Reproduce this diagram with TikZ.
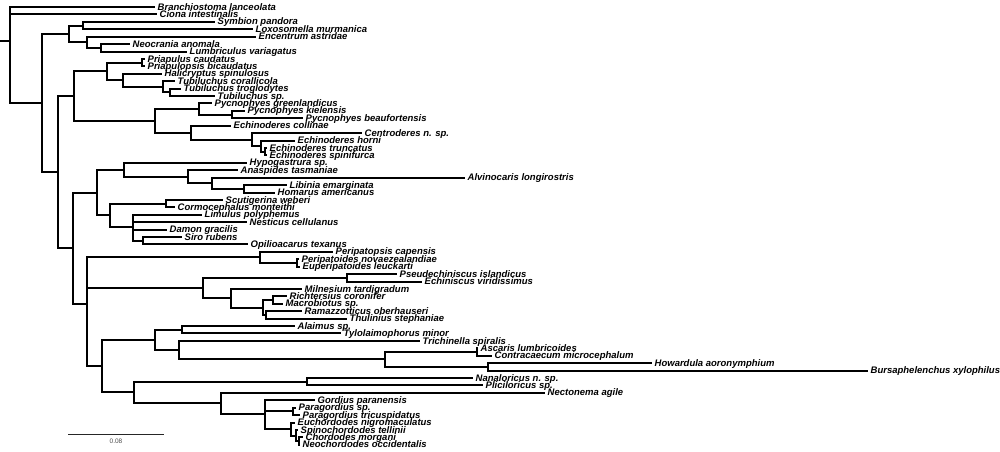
\documentclass[tikz,border=0pt]{standalone}
\usepackage{fontspec}
\newfontfamily\labfont{Liberation Sans}
\newcommand\leafnode[4]{\coordinate (#1) at (#2,#3); \node[lab] (#1t) at (#1) {#4};}
\begin{document}
\begin{tikzpicture}[x=1pt,y=-7.42pt]
\tikzset{
 edge/.style={line width=2pt, line join=miter, black},
 lab/.style={anchor=base west, inner sep=0pt, xshift=2.5pt, yshift=-3.1pt, font=\labfont\bfseries\itshape\fontsize{9.5}{10}\selectfont},
 scalebar/.style={line width=1.5pt, black!85},
 sblab/.style={inner sep=0pt, font=\labfont\fontsize{6.5}{6.5}\selectfont, text=black!70},
}
\useasboundingbox (0,0.0566) rectangle (1000,60.97);
% leaves
\leafnode{l1}{155}{1}{Branchiostoma lanceolata}
\leafnode{l2}{157}{2}{Ciona intestinalis}
\leafnode{l3}{215}{3}{Symbion pandora}
\leafnode{l4}{253}{4}{Loxosomella murmanica}
\leafnode{l5}{256}{5}{Encentrum astridae}
\leafnode{l6}{130}{6}{Neocrania anomala}
\leafnode{l7}{187}{7}{Lumbriculus variagatus}
\leafnode{l8}{145}{8}{Priapulus caudatus}
\leafnode{l9}{145}{9}{Priapulopsis bicaudatus}
\leafnode{l10}{162}{10}{Halicryptus spinulosus}
\leafnode{l11}{175}{11}{Tubiluchus corallicola}
\leafnode{l12}{181}{12}{Tubiluchus troglodytes}
\leafnode{l13}{215}{13}{Tubiluchus sp.}
\leafnode{l14}{212}{14}{Pycnophyes greenlandicus}
\leafnode{l15}{245}{15}{Pycnophyes kielensis}
\leafnode{l16}{303}{16}{Pycnophyes beaufortensis}
\leafnode{l17}{231}{17}{Echinoderes collinae}
\leafnode{l18}{362}{18}{Centroderes n. sp.}
\leafnode{l19}{295}{19}{Echinoderes horni}
\leafnode{l20}{267}{20}{Echinoderes truncatus}
\leafnode{l21}{267}{21}{Echinoderes spinifurca}
\leafnode{l22}{247}{22}{Hypogastrura sp.}
\leafnode{l23}{238}{23}{Anaspides tasmaniae}
\leafnode{l24}{465}{24}{Alvinocaris longirostris}
\leafnode{l25}{287}{25}{Libinia emarginata}
\leafnode{l26}{275}{26}{Homarus americanus}
\leafnode{l27}{223}{27}{Scutigerina weberi}
\leafnode{l28}{175}{28}{Cormocephalus monteithi}
\leafnode{l29}{202}{29}{Limulus polyphemus}
\leafnode{l30}{247}{30}{Nesticus cellulanus}
\leafnode{l31}{167}{31}{Damon gracilis}
\leafnode{l32}{182}{32}{Siro rubens}
\leafnode{l33}{248}{33}{Opilioacarus texanus}
\leafnode{l34}{333}{34}{Peripatopsis capensis}
\leafnode{l35}{299}{35}{Peripatoides novaezealandiae}
\leafnode{l36}{300}{36}{Euperipatoides leuckarti}
\leafnode{l37}{397}{37}{Pseudechiniscus islandicus}
\leafnode{l38}{422}{38}{Echiniscus viridissimus}
\leafnode{l39}{302}{39}{Milnesium tardigradum}
\leafnode{l40}{287}{40}{Richtersius coronifer}
\leafnode{l41}{283}{41}{Macrobiotus sp.}
\leafnode{l42}{302}{42}{Ramazzotticus oberhauseri}
\leafnode{l43}{347}{43}{Thulinius stephaniae}
\leafnode{l44}{295}{44}{Alaimus sp.}
\leafnode{l45}{341}{45}{Tylolaimophorus minor}
\leafnode{l46}{420}{46}{Trichinella spiralis}
\leafnode{l47}{478}{47}{Ascaris lumbricoides}
\leafnode{l48}{492}{48}{Contracaecum microcephalum}
\leafnode{l49}{652}{49}{Howardula aoronymphium}
\leafnode{l50}{868}{50}{Bursaphelenchus xylophilus}
\leafnode{l51}{473}{51}{Nanaloricus n. sp.}
\leafnode{l52}{483}{52}{Pliciloricus sp.}
\leafnode{l53}{545}{53}{Nectonema agile}
\leafnode{l54}{315}{54}{Gordius paranensis}
\leafnode{l55}{296}{55}{Paragordius sp.}
\leafnode{l56}{300}{56}{Paragordius tricuspidatus}
\leafnode{l57}{295}{57}{Euchordodes nigromaculatus}
\leafnode{l58}{298}{58}{Spinochordodes tellinii}
\leafnode{l59}{303}{59}{Chordodes morgani}
\leafnode{l60}{300}{60}{Neochordodes occidentalis}
% internal nodes
\coordinate (rootin) at (0,5.6477);
\coordinate (root) at (10,5.6477);
\coordinate (ntop) at (42,13.943);
\coordinate (nlopho) at (69,4.625);
\coordinate (nsym) at (83,3.5);
\coordinate (nenc) at (87,5.75);
\coordinate (nneo) at (101,6.5);
\coordinate (nA) at (58,23.2609);
\coordinate (nscal) at (74,13.0156);
\coordinate (npriap) at (107,9.6875);
\coordinate (npri) at (142,8.5);
\coordinate (nhal) at (123,10.875);
\coordinate (ntub1) at (163,11.75);
\coordinate (ntub2) at (170,12.5);
\coordinate (nkin) at (155,16.3438);
\coordinate (npyc1) at (199,14.75);
\coordinate (npyc2) at (232,15.5);
\coordinate (nech1) at (191,17.9375);
\coordinate (nech2) at (252,18.875);
\coordinate (nech3) at (261,19.75);
\coordinate (nech4) at (265,20.5);
\coordinate (nB) at (73,33.5061);
\coordinate (nart) at (97,26);
\coordinate (npan) at (124,22.9375);
\coordinate (ncrust) at (188,23.875);
\coordinate (nalv) at (212,24.75);
\coordinate (nhom) at (244,25.5);
\coordinate (nchelmyr) at (110,29.0625);
\coordinate (nmyr) at (166,27.5);
\coordinate (nchel) at (133,30.625);
\coordinate (nsiro) at (143,32.5);
\coordinate (nC) at (87,41.0122);
\coordinate (nony) at (260,34.75);
\coordinate (nperi) at (297,35.5);
\coordinate (ntard) at (203,38.875);
\coordinate (nhet) at (347,37.5);
\coordinate (npar) at (231,40.25);
\coordinate (neut) at (263,41.5);
\coordinate (nmacro) at (273,40.5);
\coordinate (nrt) at (266,42.5);
\coordinate (nbot) at (102,49.4115);
\coordinate (nnem) at (155,45.875);
\coordinate (nenop) at (182,44.5);
\coordinate (nrhab) at (179,47.25);
\coordinate (nsec) at (385,48.5);
\coordinate (nasc) at (477,47.5);
\coordinate (nhow) at (488,49.5);
\coordinate (nx) at (134,52.9479);
\coordinate (nlor) at (307,51.5);
\coordinate (ngord) at (221,54.3958);
\coordinate (ngord2) at (265,55.7917);
\coordinate (nparag) at (293,55.5);
\coordinate (nchord) at (291,57.875);
\coordinate (nch2) at (296,58.75);
\coordinate (nch3) at (299,59.5);
% edges
\draw[edge] (rootin) -- (root);
\foreach \p/\c in {root/l1, root/l2, root/ntop, ntop/nlopho, ntop/nA,
  nlopho/nsym, nlopho/nenc, nsym/l3, nsym/l4, nenc/l5, nenc/nneo, nneo/l6, nneo/l7,
  nA/nscal, nA/nB, nscal/npriap, nscal/nkin, npriap/npri, npriap/nhal, npri/l8, npri/l9,
  nhal/l10, nhal/ntub1, ntub1/l11, ntub1/ntub2, ntub2/l12, ntub2/l13,
  nkin/npyc1, nkin/nech1, npyc1/l14, npyc1/npyc2, npyc2/l15, npyc2/l16,
  nech1/l17, nech1/nech2, nech2/l18, nech2/nech3, nech3/l19, nech3/nech4, nech4/l20, nech4/l21,
  nB/nart, nB/nC, nart/npan, nart/nchelmyr, npan/l22, npan/ncrust, ncrust/l23, ncrust/nalv,
  nalv/l24, nalv/nhom, nhom/l25, nhom/l26, nchelmyr/nmyr, nchelmyr/nchel, nmyr/l27, nmyr/l28,
  nchel/l29, nchel/l30, nchel/l31, nchel/nsiro, nsiro/l32, nsiro/l33,
  nC/nony, nC/ntard, nC/nbot, nony/l34, nony/nperi, nperi/l35, nperi/l36,
  ntard/nhet, ntard/npar, nhet/l37, nhet/l38, npar/l39, npar/neut, neut/nmacro, neut/nrt,
  nmacro/l40, nmacro/l41, nrt/l42, nrt/l43,
  nbot/nnem, nbot/nx, nnem/nenop, nnem/nrhab, nenop/l44, nenop/l45, nrhab/l46, nrhab/nsec,
  nsec/nasc, nsec/nhow, nasc/l47, nasc/l48, nhow/l49, nhow/l50,
  nx/nlor, nx/ngord, nlor/l51, nlor/l52, ngord/l53, ngord/ngord2,
  ngord2/l54, ngord2/nparag, ngord2/nchord, nparag/l55, nparag/l56,
  nchord/l57, nchord/nch2, nch2/l58, nch2/nch3, nch3/l59, nch3/l60}
  \draw[edge] (\p) |- (\c);
% scale bar
\coordinate (sb1) at (68,58.59);
\coordinate (sb2) at (164,58.59);
\draw[scalebar] (sb1) -- (sb2);
\node[sblab] (sbt) at (116,59.5) {0.08};
\end{tikzpicture}
\end{document}
